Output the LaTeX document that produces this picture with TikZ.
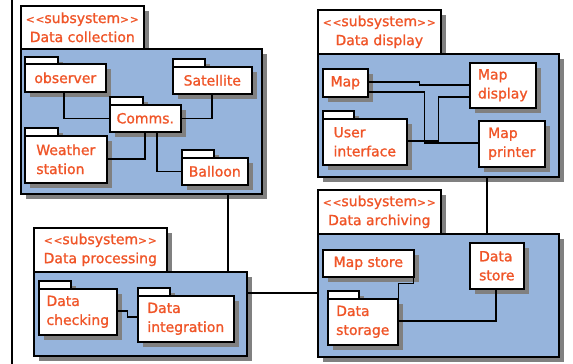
\documentclass[tikz,border=0pt]{standalone}
\usepackage{fontspec}
\setmainfont{DejaVu Sans}
\newfontfamily\lblfam[FakeBold=1.2]{DejaVu Sans}
\usetikzlibrary{shadows}
\definecolor{pkgblue}{RGB}{150,180,220}
\definecolor{txt}{RGB}{240,85,40}
\definecolor{shgray}{RGB}{128,128,128}
\newcommand{\lblfont}{\lblfam\fontsize{14}{19}\selectfont}
\newcommand{\ssys}{{\fontsize{10.5}{19}\selectfont<\kern1pt<}subsystem{\fontsize{10.5}{19}\selectfont>\kern1pt>}}
\tikzset{
  sh/.style={drop shadow={shadow xshift=5pt, shadow yshift=-5pt, fill=shgray, opacity=1}},
  pbox/.style={draw, line width=1.6pt, fill=white, sh, inner sep=0pt, anchor=north west,
               font=\lblfont, text=txt, align=left},
  ptab/.style={draw, line width=1.6pt, fill=white, sh, inner sep=0pt, anchor=north west},
  stab/.style={draw, line width=1.6pt, fill=white, sh, inner sep=0pt, anchor=north west,
               font=\lblfont, text=txt, align=center},
  sbox/.style={draw, line width=1.6pt, fill=pkgblue, sh, inner sep=0pt, anchor=north west},
  conn/.style={line width=1.6pt}
}
\begin{document}
\begin{tikzpicture}[x=1pt,y=-1pt]
\useasboundingbox (0,0) rectangle (573,364);
\draw[line width=2pt] (12,-2) -- (12,366);

% ---------- Data collection ----------
\node[stab, minimum width=123pt, minimum height=43pt] (dctab) at (20,5) {\ssys\\Data collection};
\node[sbox, minimum width=241pt, minimum height=145pt] (dcbox) at (20,48) {};
\node[ptab, minimum width=33pt, minimum height=7pt] (obstab) at (24,56) {};
\node[pbox, minimum width=81pt, minimum height=28pt] (obs) at (24,63) {observer};
\node[ptab, minimum width=32pt, minimum height=8pt] (sattab) at (172,58) {};
\node[pbox, minimum width=79pt, minimum height=27pt] (sat) at (172,66) {Satellite};
\node[ptab, minimum width=33pt, minimum height=8pt] (commstab) at (109,96) {};
\node[pbox, minimum width=71pt, minimum height=27pt] (comms) at (109,104) {Comms.};
\node[ptab, minimum width=33pt, minimum height=8pt] (wstab) at (24,127) {};
\node[pbox, minimum width=82pt, minimum height=47pt] (ws) at (24,135) {Weather\\station};
\node[ptab, minimum width=32pt, minimum height=8pt] (baltab) at (181,149) {};
\node[pbox, minimum width=66pt, minimum height=27pt] (bal) at (181,157) {Balloon};
\draw[conn] ([xshift=40pt]obs.south west) |- (comms.west);
\draw[conn] (comms.east) -| ([xshift=40pt]sat.south west);
\draw[conn] ([yshift=-24pt]ws.north east) -| ([xshift=36pt]comms.south west);
\draw[conn] ([xshift=48pt]comms.south west) |- (bal.west);

% ---------- Data display ----------
\node[stab, minimum width=123pt, minimum height=44pt] (ddtab) at (317,9) {\ssys\\Data display};
\node[sbox, minimum width=241pt, minimum height=123pt] (ddbox) at (317,53) {};
\node[pbox, minimum width=45pt, minimum height=28pt] (map) at (322,68) {Map};
\node[pbox, minimum width=66pt, minimum height=45pt] (mapdisp) at (469,62) {Map\\display};
\node[ptab, minimum width=31pt, minimum height=8pt] (uitab) at (322,110) {};
\node[pbox, minimum width=84pt, minimum height=46pt] (ui) at (322,118) {User\\interface};
\node[pbox, minimum width=66pt, minimum height=46pt] (mapprn) at (478,120) {Map\\printer};
\draw[conn] ([yshift=-14pt]map.north east) -- ++(51,0) |- ([yshift=-23pt]mapdisp.north west);
\draw[conn] ([yshift=-24pt]map.north east) -- ++(56,0) |- ([yshift=-23pt]mapprn.north west);
\draw[conn] ([yshift=-23pt]ui.north east) -- ++(31,0) |- ([yshift=-35pt]mapdisp.north west);

% ---------- Data processing ----------
\node[stab, minimum width=133pt, minimum height=44pt] (dptab) at (33,227) {\ssys\\Data processing};
\node[sbox, minimum width=213pt, minimum height=84pt] (dpbox) at (33,271) {};
\node[ptab, minimum width=32pt, minimum height=8pt] (chktab) at (38,280) {};
\node[pbox, minimum width=78pt, minimum height=46pt] (chk) at (38,288) {Data\\checking};
\node[ptab, minimum width=32pt, minimum height=8pt] (integtab) at (137,287) {};
\node[pbox, minimum width=96pt, minimum height=46pt] (integ) at (137,295) {Data\\integration};
\draw[conn] ([yshift=-23pt]chk.north east) -- ++(10,0) |- ([yshift=-22pt]integ.north west);

% ---------- Data archiving ----------
\node[stab, minimum width=123pt, minimum height=44pt] (datab) at (317,189) {\ssys\\Data archiving};
\node[sbox, minimum width=241pt, minimum height=123pt] (dabox) at (317,233) {};
\node[pbox, minimum width=91pt, minimum height=27pt] (mstore) at (322,249) {Map store};
\node[pbox, minimum width=54pt, minimum height=46pt] (dstore) at (469,242) {Data\\store};
\node[ptab, minimum width=31pt, minimum height=8pt] (dstortab) at (327,290) {};
\node[pbox, minimum width=70pt, minimum height=46pt] (dstor) at (327,298) {Data\\storage};
\draw[conn] ([xshift=-1pt]mstore.south east) -- ++(0,6) -| ([yshift=-12pt]dstor.north east);
\draw[conn] ([yshift=-23pt]dstor.north east) -| ([xshift=27pt]dstore.south west);

% ---------- links between subsystems ----------
\draw[conn] ([xshift=208pt]dcbox.south west) -- ([xshift=208pt]dcbox.south west |- dpbox.north);
\draw[conn] ([xshift=170pt]ddbox.south west) -- ([xshift=170pt]ddbox.south west |- dabox.north);
\draw[conn] (dpbox.east |- 0,293) -- (dabox.west |- 0,293);
\end{tikzpicture}
\end{document}
